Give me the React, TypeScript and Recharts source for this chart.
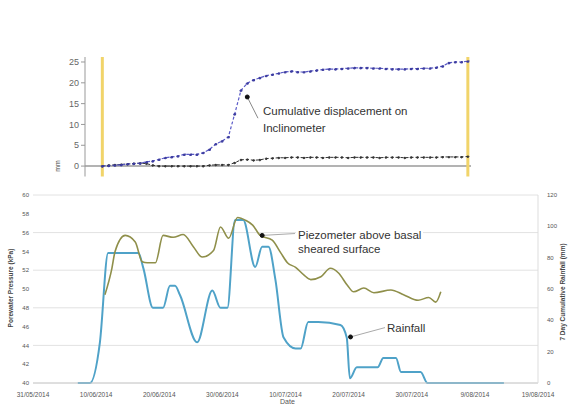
import { LineChart, Line, XAxis, YAxis, CartesianGrid, ReferenceLine, ReferenceDot } from 'recharts';

// top chart: inclinometer displacement (mm), one reading a day from day 11
const incDays = [11, 12, 13, 14, 15, 16, 17, 18, 19, 20, 21, 22, 23, 24, 25, 26, 27, 28, 29, 30, 31, 32, 33, 34, 35, 36, 37, 38, 39, 40, 41, 42, 43, 44, 45, 46, 47, 48, 49, 50, 51, 52, 53, 54, 55, 56, 57, 58, 59, 60, 61, 62, 63, 64, 65, 66, 67, 68, 69];
const upperDisp = [0, 0.1, 0.2, 0.3, 0.5, 0.6, 0.7, 1.0, 1.2, 1.6, 2.0, 2.2, 2.4, 2.8, 2.8, 2.8, 3.2, 4.0, 5.3, 6.0, 7.0, 12.5, 18.2, 19.9, 20.7, 21.2, 21.7, 22.0, 22.3, 22.6, 22.8, 22.6, 22.6, 22.8, 23.0, 23.2, 23.3, 23.3, 23.4, 23.5, 23.6, 23.6, 23.6, 23.5, 23.5, 23.4, 23.3, 23.3, 23.3, 23.4, 23.4, 23.5, 23.5, 23.7, 24.0, 24.8, 25.0, 25.0, 25.2];
const lowerDisp = [0, 0.2, 0.3, 0.4, 0.5, 0.6, 0.7, 0.6, 0.2, 0, 0, 0, 0, 0, 0, 0, 0, 0.2, 0.3, 0.3, 0.3, 0.8, 1.5, 1.6, 1.4, 1.5, 1.8, 1.9, 2.0, 2.0, 2.1, 2.1, 2.0, 2.1, 2.1, 2.0, 2.1, 2.1, 2.1, 2.0, 2.1, 2.1, 2.1, 2.1, 2.0, 2.1, 2.1, 2.1, 2.0, 2.1, 2.1, 2.1, 2.1, 2.1, 2.2, 2.2, 2.2, 2.2, 2.3];
const incTicks = [0, 5, 10, 15, 20, 25];
const monitorWindow = [11, 69];

// bottom chart: days since 31/05/2014
const piezoDays = [11.4, 12.5, 13.0, 14.6, 16.2, 17.3, 18.1, 19.4, 20.6, 22.2, 23.8, 25.4, 26.8, 28.6, 29.7, 31.0, 32.4, 33.7, 34.8, 36.0, 37.9, 39.2, 40.3, 41.6, 42.9, 44.0, 45.6, 47.1, 48.4, 49.8, 50.8, 52.4, 54.0, 56.7, 58.7, 61.0, 62.7, 63.8, 64.6];
const piezoKpa = [49.4, 52.2, 54.0, 55.7, 55.0, 52.9, 52.8, 52.8, 55.7, 55.5, 55.8, 54.5, 53.4, 54.1, 56.6, 55.4, 57.6, 57.3, 56.8, 55.7, 55.2, 53.9, 52.8, 52.3, 51.5, 51.0, 51.3, 52.2, 51.7, 50.4, 49.7, 50.1, 49.6, 49.9, 49.4, 48.8, 49.1, 48.6, 49.7];
const rainDays = [7.1, 9.0, 10.6, 11.9, 16.7, 17.5, 19.0, 20.6, 21.7, 22.5, 23.3, 26.0, 28.4, 29.7, 30.8, 32.0, 33.3, 35.2, 36.3, 37.3, 38.4, 39.7, 41.6, 42.4, 43.6, 45.2, 48.7, 49.7, 50.2, 51.3, 54.6, 55.5, 57.5, 58.3, 61.4, 62.5, 74.6];
const rainMm = [0, 0, 26, 83, 83, 73, 48, 48, 62, 62, 56, 26, 59, 48, 48, 104, 104, 74, 87, 87, 66, 29, 22, 22, 39, 39, 37, 29, 3, 10, 10, 16, 16, 7, 7, 0, 0];
const dateTicks = [0, 10, 20, 30, 40, 50, 60, 70, 80];
const dateLabels = ['31/05/2014', '10/06/2014', '20/06/2014', '30/06/2014', '10/07/2014', '20/07/2014', '30/07/2014', '9/08/2014', '19/08/2014'];
const kpaTicks = [40, 42, 44, 46, 48, 50, 52, 54, 56, 58, 60];
const rainTicks = [0, 20, 40, 60, 80, 100, 120];

const incData = incDays.map((d, i) => ({ day: d, upper: upperDisp[i], lower: lowerDisp[i] }));
const piezoData = piezoDays.map((d, i) => ({ day: d, kpa: piezoKpa[i] }));
const rainData = rainDays.map((d, i) => ({ day: d, rain: rainMm[i] }));

const font = '"Liberation Sans", Arial, sans-serif';

const VText = ({ x, y, text, size, bold }: any) => (
  <div style={{ position: 'absolute', left: x, top: y, transform: 'translate(-50%,-50%) rotate(-90deg)', whiteSpace: 'nowrap', fontSize: size, fontWeight: bold ? 'bold' : 'normal', color: '#444', fontFamily: font }}>{text}</div>
);

const Note = ({ x, y, lines, lh }: any) => (
  <div style={{ position: 'absolute', left: x, top: y, background: '#fff', fontSize: 11.5, lineHeight: lh + 'px', color: '#333', fontFamily: font, padding: '0 2px' }}>
    {lines.map((l: string) => <div key={l}>{l}</div>)}
  </div>
);

const App = () => {
  return (
    <div style={styles.page}>
      <div style={{ position: 'absolute', left: 0, top: 0 }}>
        <LineChart width={570} height={185} data={incData} margin={{ top: 57, right: 99, bottom: 8.5, left: 0 }}>
          <XAxis dataKey="day" type="number" domain={[8.25, 69.5]} hide allowDataOverflow />
          <YAxis width={85} domain={[-2.5, 26.2]} ticks={incTicks} allowDataOverflow stroke="#999" tickSize={4} tickMargin={2} tick={{ fontSize: 9, fill: '#666', fontFamily: font }} />
          <ReferenceLine y={0} stroke="#9a9a9a" strokeWidth={1.5} />
          {monitorWindow.map(d => <ReferenceLine key={d} x={d} stroke="#f1d46a" strokeWidth={3} />)}
          <Line dataKey="lower" stroke="#333" strokeWidth={1} strokeDasharray="3 2" dot={{ r: 1, fill: '#333', stroke: '#333' }} isAnimationActive={false} />
          <Line dataKey="upper" stroke="#5a5ac8" strokeWidth={1.2} strokeDasharray="3 2" dot={{ r: 1, fill: '#3c3ca0', stroke: '#3c3ca0' }} isAnimationActive={false} />
          <ReferenceLine segment={[{ x: 34, y: 16.6 }, { x: 35.7, y: 11.5 }]} stroke="#888" />
          <ReferenceDot x={34} y={16.6} r={2} fill="#111" stroke="#111" />
        </LineChart>
      </div>
      <div style={{ position: 'absolute', left: 0, top: 185 }}>
        <LineChart width={570} height={220} margin={{ top: 10, right: 0, bottom: 0, left: 0 }}>
          <CartesianGrid vertical={false} stroke="#e2e2e2" yAxisId="left" />
          <XAxis dataKey="day" type="number" domain={[0, 80]} ticks={dateTicks} tickFormatter={(v: number) => dateLabels[dateTicks.indexOf(v)]} height={22} stroke="#ccc" tickLine={false} tickMargin={3} tick={{ fontSize: 6.5, fill: '#555', fontFamily: font }} allowDuplicatedCategory={false} />
          <YAxis yAxisId="left" width={33} domain={[40, 60]} ticks={kpaTicks} axisLine={false} tickLine={false} tickSize={2} tickMargin={2} tick={{ fontSize: 6, fill: '#555', fontFamily: font }} />
          <YAxis yAxisId="right" orientation="right" width={32} domain={[0, 120]} ticks={rainTicks} stroke="#ddd" tickLine={false} tickSize={4} tickMargin={5} tick={{ fontSize: 6, fill: '#555', fontFamily: font }} />
          <Line yAxisId="right" data={rainData} dataKey="rain" type="monotone" stroke="#4fa2c8" strokeWidth={2} dot={false} isAnimationActive={false} />
          <Line yAxisId="left" data={piezoData} dataKey="kpa" type="monotone" stroke="#8f8f4a" strokeWidth={1.6} dot={false} isAnimationActive={false} />
          <ReferenceLine yAxisId="left" segment={[{ x: 36.3, y: 55.7 }, { x: 41.5, y: 55.9 }]} stroke="#aaa" />
          <ReferenceDot yAxisId="left" x={36.3} y={55.7} r={2} fill="#111" stroke="#111" />
          <ReferenceLine yAxisId="left" segment={[{ x: 50.3, y: 44.9 }, { x: 55.8, y: 45.9 }]} stroke="#aaa" />
          <ReferenceDot yAxisId="left" x={50.3} y={44.9} r={2} fill="#111" stroke="#111" />
        </LineChart>
      </div>
      <Note x={261} y={103} lh={17} lines={['Cumulative displacement on', 'Inclinometer']} />
      <Note x={296} y={228} lh={14} lines={['Piezometer above basal', 'sheared surface']} />
      <Note x={385} y={320} lh={16} lines={['Rainfall']} />
      <VText x={57} y={166} text="mm" size={7} />
      <VText x={10} y={288} text="Porewater Pressure (kPa)" size={6.5} bold />
      <VText x={562} y={292} text="7 Day Cumulative Rainfall (mm)" size={6.5} bold />
      <div style={{ position: 'absolute', left: 280, top: 398, fontSize: 7, color: '#555', fontFamily: font }}>Date</div>
    </div>
  );
};

const styles: any = {
  page: { position: 'absolute', left: 0, top: 0, width: 570, height: 405, background: '#fff', overflow: 'hidden' },
};

export default App;
